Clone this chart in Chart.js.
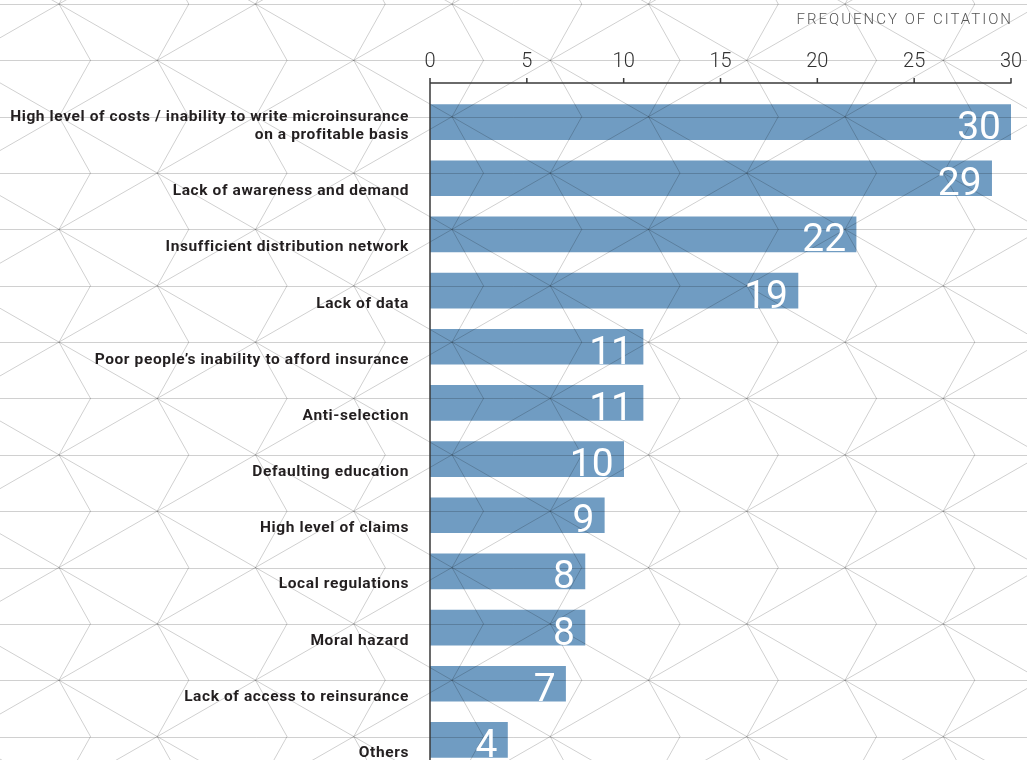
<!DOCTYPE html>
<html lang="en">
<head>
<meta charset="UTF-8">
<title>Frequency of citation</title>
<script src="https://cdn.jsdelivr.net/npm/chart.js"></script>
<style>
  html, body { margin: 0; padding: 0; background: #fff; overflow: hidden; }
  .wrap { position: relative; width: 1027px; height: 768px; }
</style>
</head>
<body>
<div class="wrap"><canvas id="myChart"></canvas></div>
<script>
    const categories = [
        ['High level of costs / inability to write microinsurance', 'on a profitable basis'],
        'Lack of awareness and demand',
        'Insufficient distribution network',
        'Lack of data',
        'Poor people\u2019s inability to afford insurance',
        'Anti-selection',
        'Defaulting education',
        'High level of claims',
        'Local regulations',
        'Moral hazard',
        'Lack of access to reinsurance',
        'Others'
    ];
    const values = [30, 29, 22, 19, 11, 11, 10, 9, 8, 8, 7, 4];
    const xTicks = [0, 5, 10, 15, 20, 25, 30];
    const axisTitle = 'FREQUENCY OF CITATION';

    Chart.defaults.font.family = 'Roboto';

    // background lattice + axes + labels, drawn after the bars
    const deco = {
        id: 'deco',
        afterDatasetsDraw(chart) {
            const ctx = chart.ctx;
            const W = chart.width, H = chart.height;
            const x = chart.scales.x, y = chart.scales.y;
            const area = chart.chartArea;

            // lattice, multiplied so it darkens the bars too
            const rowH = 56.35, y0 = 4, colW = 196.5, xA = 59, zig = 31.5;
            const slope = rowH / (colW / 2);
            ctx.save();
            ctx.globalCompositeOperation = 'multiply';
            ctx.strokeStyle = 'rgb(208,208,208)';
            ctx.lineWidth = 1;
            ctx.beginPath();
            for (let k = -1; y0 + k * rowH < H; k++) {
                const yy = Math.round(y0 + k * rowH) + 0.5;
                ctx.moveTo(0, yy);
                ctx.lineTo(W, yy);
            }
            for (let i = -10; i < 16; i++) {
                const cx = xA + i * colW;
                ctx.moveTo(cx - 1500, y0 - 1500 * slope);
                ctx.lineTo(cx + 2500, y0 + 2500 * slope);
                ctx.moveTo(cx + 1500, y0 - 1500 * slope);
                ctx.lineTo(cx - 2500, y0 + 2500 * slope);
            }
            for (let j = -2; j < 12; j++) {
                const cx = xA + j * colW / 2;
                let k = (((j % 2) + 2) % 2) === 0 ? -2 : -1;
                ctx.moveTo(cx, y0 + k * rowH);
                for (; y0 + k * rowH < H + rowH; k += 2) {
                    ctx.lineTo(cx + zig, y0 + (k + 1) * rowH);
                    ctx.lineTo(cx, y0 + (k + 2) * rowH);
                }
            }
            ctx.stroke();
            ctx.restore();

            ctx.save();
            // axes
            const axY = 83;
            ctx.strokeStyle = '#3a3a3a';
            ctx.lineWidth = 1.5;
            ctx.beginPath();
            ctx.moveTo(area.left, axY);
            ctx.lineTo(x.getPixelForValue(xTicks[xTicks.length - 1]) + 0.5, axY);
            ctx.moveTo(area.left, axY);
            ctx.lineTo(area.left, H);
            x.ticks.forEach(t => {
                const px = x.getPixelForValue(t.value);
                ctx.moveTo(px, axY - 5);
                ctx.lineTo(px, axY);
            });
            ctx.stroke();

            // category labels, last line sits on the bar bottom
            ctx.fillStyle = '#231f20';
            ctx.font = 'bold 15.5px Roboto';
            ctx.letterSpacing = '0.6px';
            ctx.textAlign = 'right';
            ctx.textBaseline = 'alphabetic';
            categories.forEach((lab, i) => {
                const lines = Array.isArray(lab) ? lab : [lab];
                const base = y.getPixelForValue(i) + 17;
                lines.forEach((ln, n) => {
                    ctx.fillText(ln, area.left - 21, base - (lines.length - 1 - n) * 18.5);
                });
            });

            // values inside the bar ends
            const meta = chart.getDatasetMeta(0);
            ctx.letterSpacing = '0px';
            ctx.fillStyle = '#fff';
            ctx.font = '39px Roboto';
            meta.data.forEach((bar, i) => {
                ctx.fillText(values[i], bar.x - 10, bar.y + 17);
            });

            // axis title
            ctx.fillStyle = '#555';
            ctx.font = '300 15px Roboto';
            ctx.letterSpacing = '2px';
            ctx.textBaseline = 'middle';
            ctx.fillText(axisTitle, 1013, 20);
            ctx.restore();
        }
    };

    const ctx = document.getElementById('myChart').getContext('2d');
    const myChart = new Chart(ctx, {
        type: 'bar',
        data: {
            labels: categories,
            datasets: [{
                data: values,
                backgroundColor: '#709cc2',
                borderWidth: 0,
                barThickness: 35
            }]
        },
        plugins: [deco],
        options: {
            indexAxis: 'y',
            responsive: true,
            maintainAspectRatio: false,
            animation: false,
            layout: { padding: { left: 430, right: 16, top: 0, bottom: 0 } },
            plugins: {
                legend: { display: false },
                tooltip: { enabled: false }
            },
            scales: {
                x: {
                    position: 'top',
                    min: xTicks[0],
                    max: xTicks[xTicks.length - 1],
                    ticks: {
                        stepSize: xTicks[1] - xTicks[0],
                        padding: 20,
                        color: '#333',
                        font: { size: 20, weight: '300' }
                    },
                    grid: { display: false, drawTicks: false },
                    border: { display: false },
                    afterFit: s => {
                        s.height = 94;
                        s.paddingLeft = 0;
                        s.paddingRight = 0;
                    }
                },
                y: { display: false }
            }
        }
    });
</script>
</body>
</html>
